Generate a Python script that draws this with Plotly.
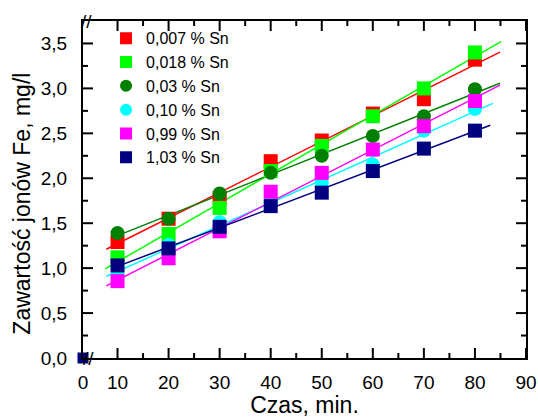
import numpy as np
import plotly.graph_objects as go

# ---- data ----
time_min = [10, 20, 30, 40, 50, 60, 70, 80]
series_names = ["0,007 % Sn", "0,018 % Sn", "0,03 % Sn", "0,10 % Sn", "0,99 % Sn", "1,03 % Sn"]
fe_0007 = [1.29, 1.55, 1.78, 2.19, 2.42, 2.72, 2.88, 3.32]
fe_0018 = [1.12, 1.38, 1.67, 2.08, 2.36, 2.69, 3.00, 3.40]
fe_003 = [1.39, 1.55, 1.83, 2.06, 2.25, 2.47, 2.69, 2.99]
fe_010 = [0.93, 1.26, 1.51, 1.73, 1.95, 2.15, 2.53, 2.77]
fe_099 = [0.855, 1.11, 1.41, 1.85, 2.06, 2.32, 2.58, 2.86]
fe_103 = [1.03, 1.22, 1.46, 1.69, 1.84, 2.08, 2.33, 2.53]
fit_start = [7.8, 7.6, 10, 7.8, 7.8, 10]
fit_end = [84.9, 85.1, 84.9, 83.5, 84.9, 83]
origin_t = [0]
origin_fe = [0.0]
x_ticks = [10, 20, 30, 40, 50, 60, 70, 80, 90]
x_minor = [15, 25, 35, 45, 55, 65, 75, 85]
y_ticks = [0.0, 0.5, 1.0, 1.5, 2.0, 2.5, 3.0, 3.5]
y_minor = [0.25, 0.75, 1.25, 1.75, 2.25, 2.75, 3.25]

# ---- styles ----
colors = ["#FF0000", "#00FF00", "#008000", "#00FFFF", "#FF00FF", "#000080"]
symbols = ["square", "square", "circle", "circle", "square", "square"]
X0 = 3.24   # axis start (broken axis: shown as 0)
X1 = 90
Y1 = 3.75
MAJOR_LEN, MINOR_LEN = 10, 5

values = [fe_0007, fe_0018, fe_003, fe_010, fe_099, fe_103]
fig = go.Figure()

for i, ys in enumerate(values):
    k, b = np.polyfit(time_min, ys, 1)
    xs = [fit_start[i], fit_end[i]]
    fig.add_trace(go.Scatter(x=xs, y=[k * v + b for v in xs], mode="lines",
                             line=dict(color=colors[i], width=1.5),
                             showlegend=False, hoverinfo="skip"))

fig.add_trace(go.Scatter(x=[X0] * len(origin_t), y=origin_fe, mode="markers",
                         marker=dict(symbol="square", size=11, color=colors[5]),
                         cliponaxis=False, showlegend=False))

for i, ys in enumerate(values):
    fig.add_trace(go.Scatter(x=time_min, y=ys, mode="markers", name=series_names[i],
                             marker=dict(symbol=symbols[i], size=14, color=colors[i],
                                         line=dict(width=0))))

font_family = "Liberation Sans, Arial, sans-serif"
label_axis = dict(showline=True, linecolor="black", linewidth=2, mirror=True, ticks="",
                  showgrid=False, zeroline=False, automargin=False,
                  tickfont=dict(family=font_family, size=19, color="black"))

fig.update_layout(
    width=538, height=418,
    margin=dict(l=83, r=12, t=21, b=60),
    plot_bgcolor="white", paper_bgcolor="white",
    separators=", ",
    font=dict(family=font_family, color="black"),
    xaxis=dict(range=[X0, X1], tickmode="array",
               tickvals=[X0] + x_ticks, ticktext=["0"] + [str(v) for v in x_ticks],
               title=dict(text="Czas, min.", font=dict(size=23), standoff=15),
               ticklabelstandoff=6, **label_axis),
    yaxis=dict(range=[0, Y1], tickmode="array", tickvals=y_ticks, tickformat=".1f",
               ticklabelstandoff=10, **label_axis),
    legend=dict(x=0.052, y=0.999, xanchor="left", yanchor="top",
                font=dict(size=16, family=font_family), itemsizing="constant",
                bgcolor="rgba(0,0,0,0)"),
)

# inside tick marks on all four sides, drawn as pixel-sized shapes
tick_line = dict(color="black", width=2)
for vals, ln in ((x_ticks, MAJOR_LEN), (x_minor, MINOR_LEN)):
    for v in vals:
        for anchor, sign in ((0, 1), (1, -1)):
            fig.add_shape(type="line", xref="x", yref="paper", x0=v, x1=v,
                          ysizemode="pixel", yanchor=anchor, y0=0, y1=sign * ln,
                          line=tick_line)
for vals, ln in ((y_ticks[1:], MAJOR_LEN), (y_minor, MINOR_LEN)):
    for v in vals:
        for anchor, sign in ((0, 1), (1, -1)):
            fig.add_shape(type="line", yref="y", xref="paper", y0=v, y1=v,
                          xsizemode="pixel", xanchor=anchor, x0=0, x1=sign * ln,
                          line=tick_line)

# y-axis title (placed a little below centre, as in the original)
fig.add_annotation(text="Zawartość jonów Fe, mg/l", textangle=-90, showarrow=False,
                   xref="paper", yref="paper", x=-0.1385, y=0.457,
                   xanchor="center", yanchor="middle", font=dict(size=23))

# axis break marks as text
for xb, yb in ((0.012, 0.0), (0.008, 1.0)):
    fig.add_annotation(text="//", showarrow=False, xref="paper", yref="paper",
                       x=xb, y=yb, xanchor="center", yanchor="middle",
                       font=dict(size=19, color="black"))

fig.write_html("out.html")
